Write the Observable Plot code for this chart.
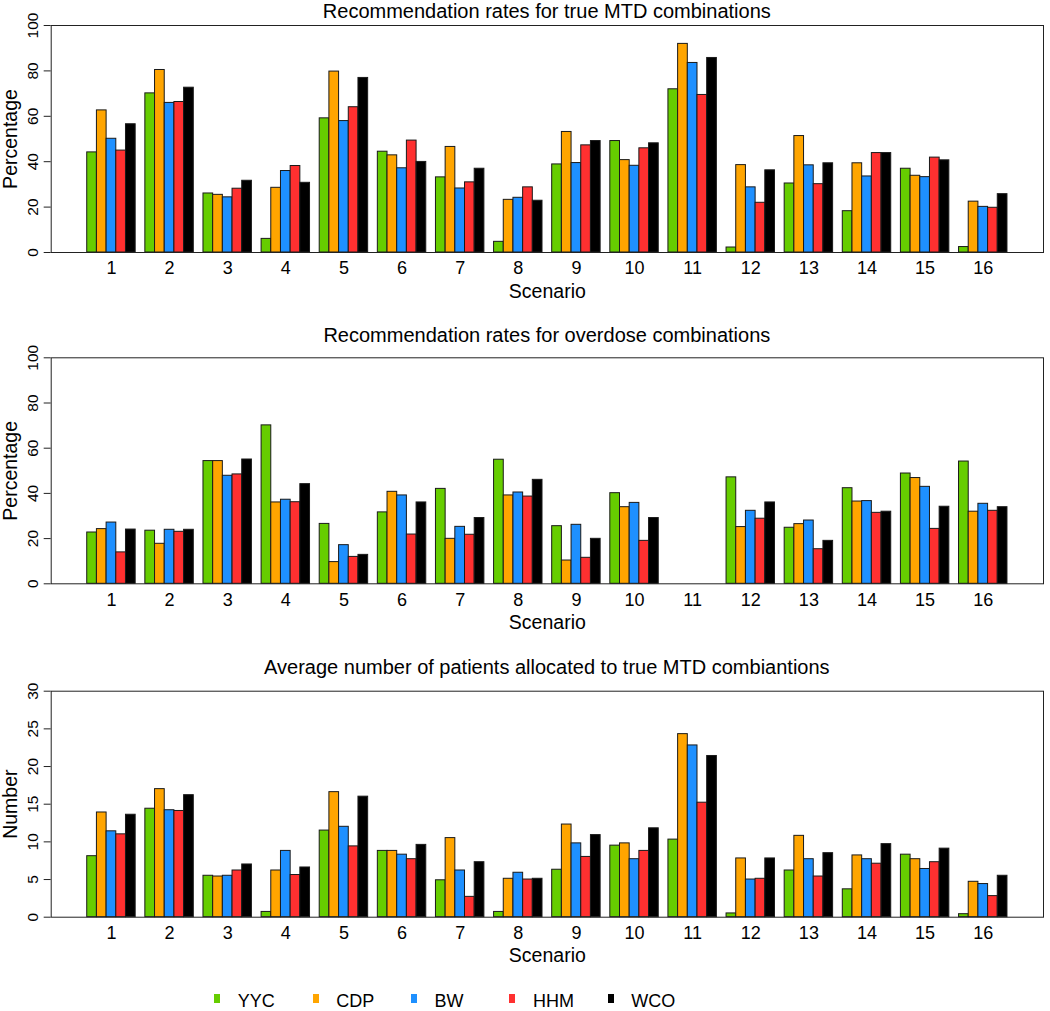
<!DOCTYPE html>
<html><head><meta charset="utf-8">
<script src="https://cdn.jsdelivr.net/npm/d3@7"></script>
<script src="https://cdn.jsdelivr.net/npm/@observablehq/plot@0.6"></script>
<style>
body{margin:0;background:#fff;font-family:"Liberation Sans",Arial,Helvetica,sans-serif;}
#root{position:relative;width:1050px;height:1011px;overflow:hidden;background:#fff;}
.panel{position:absolute;left:0;}
.title{position:absolute;left:50.7px;width:992.3px;text-align:center;font-size:20px;line-height:14px;color:#000;white-space:nowrap;}
.legend{position:absolute;top:991.5px;left:214.3px;display:flex;}
.item{width:98.4px;display:flex;align-items:flex-start;font-size:18px;line-height:18px;color:#000;}
.sw{width:6px;height:9px;margin-top:2.5px;margin-right:17.5px;}
</style></head>
<body><div id="root"></div>
<script>
const scenarios = [1,2,3,4,5,6,7,8,9,10,11,12,13,14,15,16];
const methods = ["YYC","CDP","BW","HHM","WCO"];
const colors = ["#66CD00","#FFA500","#1E90FF","#FF3030","#000000"];

// Panel 1: recommendation rates for true MTD combinations (%)
const mtdYYC = [44.1,70.1,26.0,6.0,59.1,44.4,33.1,4.7,38.8,49.1,71.9,2.2,30.4,18.2,36.9,2.4];
const mtdCDP = [62.6,80.4,25.4,28.5,79.7,42.8,46.5,23.2,53.1,40.7,91.9,38.5,51.3,39.3,33.8,22.4];
const mtdBW  = [50.1,65.9,24.3,35.9,57.9,37.1,28.2,24.1,39.4,38.2,83.5,28.7,38.4,33.5,33.2,20.1];
const mtdHHM = [44.9,66.3,28.1,38.1,64.0,49.3,30.9,28.7,47.2,45.9,69.4,21.9,30.1,43.8,41.8,19.7];
const mtdWCO = [56.5,72.6,31.6,30.7,76.9,39.9,36.9,22.8,49.1,48.1,85.7,36.2,39.3,43.8,40.6,25.7];

// Panel 2: recommendation rates for overdose combinations (%)
const odYYC = [22.7,23.5,54.3,70.1,26.5,31.6,42.0,54.9,25.5,40.1,0,47.1,24.8,42.3,48.8,54.1];
const odCDP = [24.2,17.7,54.3,36.0,9.6,40.7,19.9,39.1,10.3,33.9,0,25.1,26.4,36.4,46.8,31.9];
const odBW  = [27.1,23.9,47.8,37.2,17.1,39.1,25.2,40.4,26.1,35.8,0,32.3,28.0,36.6,42.9,35.4];
const odHHM = [13.9,23.0,48.4,36.1,11.9,21.8,21.7,38.6,11.5,19.0,0,28.8,15.3,31.4,24.3,32.3];
const odWCO = [24.0,23.9,55.0,44.1,12.8,36.0,29.1,46.0,19.9,29.1,0,36.0,19.0,31.9,34.1,33.9];

// Panel 3: average number of patients allocated to true MTD combinations
const ptYYC = [8.1,14.4,5.5,0.7,11.5,8.8,4.9,0.7,6.3,9.5,10.3,0.5,6.2,3.7,8.3,0.4];
const ptCDP = [13.9,17.0,5.4,6.2,16.6,8.8,10.5,5.1,12.3,9.8,24.3,7.8,10.8,8.2,7.7,4.7];
const ptBW  = [11.4,14.2,5.5,8.8,12.0,8.3,6.2,5.9,9.8,7.7,22.8,5.0,7.7,7.7,6.4,4.4];
const ptHHM = [11.0,14.1,6.2,5.6,9.4,7.7,2.7,5.0,8.0,8.8,15.2,5.1,5.4,7.1,7.3,2.8];
const ptWCO = [13.6,16.2,7.0,6.6,16.0,9.6,7.3,5.1,10.9,11.8,21.4,7.8,8.5,9.7,9.1,5.5];

const pctTicks = [0,20,40,60,80,100];
const numTicks = [0,5,10,15,20,25,30];

const titles = [
  "Recommendation rates for true MTD combinations",
  "Recommendation rates for overdose combinations",
  "Average number of patients allocated to true MTD combiantions"
];

const FONT = "Liberation Sans, Arial, Helvetica, sans-serif";

function common(opts) {
  return {
    width: 1050,
    height: opts.height,
    marginLeft: 50.7,
    marginRight: 7,
    marginTop: opts.marginTop,
    marginBottom: opts.marginBottom,
    style: {fontFamily: FONT, background: "transparent", color: "black", overflow: "visible"}
  };
}

// bars, faceted by scenario
function barsPanel(series, opts) {
  const data = [];
  scenarios.forEach((s, i) => methods.forEach((m, j) => data.push({scenario: s, method: m, value: series[j][i]})));
  return Plot.plot({
    ...common(opts),
    fx: {domain: scenarios, paddingInner: 1/6, paddingOuter: 0.62, round: false, axis: null, label: null},
    x: {domain: methods, padding: 0, round: false, axis: null},
    y: {domain: opts.yDomain, axis: null},
    color: {domain: methods, range: colors},
    marks: [
      Plot.barY(data.filter(d => d.value > 0), {fx: "scenario", x: "method", y: "value", fill: "method", stroke: "#1a1a1a", strokeWidth: 1, inset: 0, insetLeft: 0, insetRight: 0}),
      Plot.axisFx({anchor: "bottom", tickSize: 0, tickPadding: 9, fontSize: 18, label: null}),
      Plot.text(["Scenario"], {facet: "super", frameAnchor: "bottom", dy: 39, fontSize: 19.5, textAnchor: "middle", lineAnchor: "middle"})
    ]
  });
}

// y axis and box, sharing the same y scale and frame
function axisPanel(opts) {
  return Plot.plot({
    ...common(opts),
    x: {axis: null},
    y: {domain: opts.yDomain, axis: null},
    marks: [
      Plot.frame({stroke: "#222", strokeWidth: 1}),
      Plot.axisY({ticks: opts.yTicks, tickSize: 7, tickRotate: -90, tickPadding: 6, fontSize: 15.5, label: null, stroke: "#222"}),
      Plot.text([opts.yLabel], {frameAnchor: "left", rotate: -90, dx: -40.7, fontSize: 19.5, textAnchor: "middle", lineAnchor: "middle"})
    ]
  });
}

const root = document.getElementById("root");
const layouts = [
  {top: 0, height: 310, marginTop: 25, marginBottom: 58, yDomain: [0,100], yTicks: pctTicks, yLabel: "Percentage", series: [mtdYYC, mtdCDP, mtdBW, mtdHHM, mtdWCO], titleTop: 3.5},
  {top: 330, height: 310, marginTop: 27.3, marginBottom: 56.7, yDomain: [0,100], yTicks: pctTicks, yLabel: "Percentage", series: [odYYC, odCDP, odBW, odHHM, odWCO], titleTop: 327.8},
  {top: 660, height: 310, marginTop: 30.7, marginBottom: 53.3, yDomain: [0,30], yTicks: numTicks, yLabel: "Number", series: [ptYYC, ptCDP, ptBW, ptHHM, ptWCO], titleTop: 660.4}
];

layouts.forEach((L) => {
  const w1 = document.createElement("div");
  w1.className = "panel";
  w1.style.top = L.top + "px";
  w1.appendChild(barsPanel(L.series, L));
  root.appendChild(w1);
  const w2 = document.createElement("div");
  w2.className = "panel";
  w2.style.top = L.top + "px";
  w2.appendChild(axisPanel(L));
  root.appendChild(w2);
});
layouts.forEach((L, k) => {
  const t = document.createElement("div");
  t.className = "title";
  t.style.top = L.titleTop + "px";
  t.textContent = titles[k];
  root.appendChild(t);
});

const legend = document.createElement("div");
legend.className = "legend";
methods.forEach((m, i) => {
  const it = document.createElement("div");
  it.className = "item";
  const sw = document.createElement("div");
  sw.className = "sw";
  sw.style.background = colors[i];
  const tx = document.createElement("span");
  tx.textContent = m;
  it.appendChild(sw);
  it.appendChild(tx);
  legend.appendChild(it);
});
root.appendChild(legend);
</script>
</body></html>
